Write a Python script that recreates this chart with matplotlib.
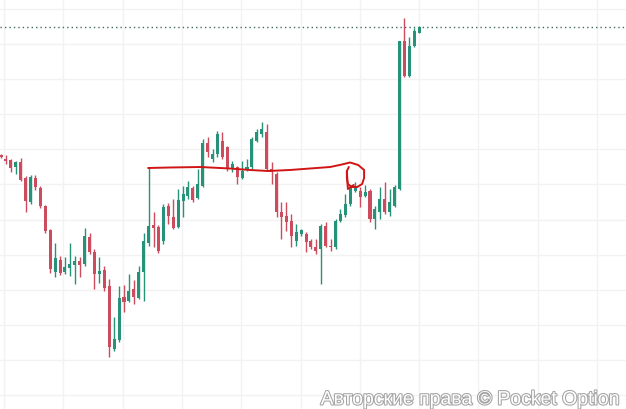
import matplotlib.pyplot as plt
import matplotlib.patheffects as pe
import numpy as np

# candle OHLC (price units)
opens = [254, 250, 249, 242, 247, 231, 207, 231, 221, 203, 179, 137, 149, 137, 141, 144, 148, 145, 172, 157,
         135, 139, 123, 60, 69, 112, 108, 120, 111, 137, 166, 184, 182, 168, 203, 192, 182, 208, 213, 221,
         211, 223, 266, 250, 255, 268, 262, 240, 242, 231, 240, 242, 268, 275, 277, 240, 235, 197, 193, 188,
         168, 175, 175, 168, 162, 160, 183, 163, 162, 188, 194, 205, 218, 218, 213, 218, 190, 197, 210, 197,
         203, 220, 368, 333, 363, 376]
highs = [255, 254, 250, 248, 251, 233, 234, 234, 223, 204, 180, 166, 153, 152, 166, 153, 152, 181, 176, 160,
         152, 143, 130, 92, 123, 124, 135, 129, 143, 176, 242, 197, 184, 205, 206, 210, 220, 223, 228, 223,
         240, 270, 272, 260, 278, 277, 263, 248, 243, 248, 250, 272, 280, 287, 285, 247, 237, 207, 207, 195,
         185, 180, 177, 170, 170, 185, 187, 170, 190, 200, 215, 224, 227, 222, 224, 220, 203, 222, 227, 220,
         224, 368, 391, 372, 381, 383]
lows = [251, 245, 237, 235, 228, 197, 205, 219, 201, 176, 136, 132, 134, 135, 133, 125, 132, 143, 155, 120,
        126, 118, 52, 58, 67, 97, 107, 105, 110, 108, 163, 162, 156, 165, 185, 180, 181, 192, 210, 207,
        210, 222, 252, 247, 252, 250, 238, 237, 225, 230, 238, 240, 267, 272, 238, 225, 192, 170, 178, 162,
        163, 173, 157, 160, 155, 125, 162, 158, 160, 187, 192, 203, 217, 202, 212, 187, 180, 190, 195, 193,
        202, 219, 332, 332, 362, 376]
closes = [252, 248, 241, 247, 229, 208, 232, 222, 203, 178, 140, 151, 136, 142, 145, 148, 144, 173, 157, 135,
          138, 121, 62, 70, 111, 107, 118, 112, 137, 168, 183, 181, 158, 202, 193, 181, 209, 215, 222, 209,
          225, 266, 257, 255, 275, 252, 240, 245, 232, 238, 242, 270, 277, 280, 240, 237, 197, 192, 187, 173,
          177, 179, 167, 162, 158, 183, 163, 162, 188, 195, 205, 222, 222, 212, 217, 190, 200, 210, 197, 207,
          222, 368, 333, 363, 378, 382]

# hand drawn red mark (candle index, price)
draw_x = [29.9, 34.3, 40.5, 46.5, 50.6, 54.3, 58.7, 62.8, 66.9, 69.3, 70.9, 71.3, 72.6, 73.8, 73.8,
          73.4, 72.4, 71.3, 70.5, 70.3, 70.3, 70.7]
draw_y = [241, 241.5, 242, 240.5, 239, 238, 239, 240.5, 242, 244.5, 246.5, 246, 244, 239, 231,
          225, 222, 222, 225, 231, 238, 242]
arrow_x = [70.3, 70.5, 71.7]
arrow_y = [238, 220, 224]

step = 4.92  # pixels per candle
fig = plt.figure(figsize=(6.26, 4.10), dpi=100)
ax = fig.add_axes([0, 0, 1, 1])
ax.set_xlim(-1 / step, 625 / step)
ax.set_ylim(0, 410)
ax.axis('off')

# faint grid
for gx in np.arange(3.0 / step, 626 / step, 59.3 / step):
    ax.axvline(gx, color='#f2f2f2', lw=1, zorder=0)
for gy in np.arange(400, 0, -35.09):
    ax.axhline(gy, color='#f2f2f2', lw=1, zorder=0)

green = '#26927a'
red = '#cc4c5d'
idx = np.arange(len(opens))
for i in idx:
    o, h, l, c = opens[i], highs[i], lows[i], closes[i]
    col = green if c >= o else red
    ax.vlines(i, l, h, color=col, lw=1, zorder=2)
    bot = min(o, c)
    height = max(abs(c - o), 1.2)
    ax.bar(i, height, bottom=bot, width=0.62, color=col, zorder=3, linewidth=0)

# current price line
ax.axhline(closes[-1], color='#3f6b66', lw=1, ls=(0, (1, 2.2)), zorder=1)

ax.plot(draw_x, draw_y, color='#d01515', lw=1.4, zorder=4, solid_capstyle='round')
ax.plot(arrow_x, arrow_y, color='#d01515', lw=1.4, zorder=4, solid_capstyle='round')

ax.text(620 / step, 9, 'Авторские права © Pocket Option', ha='right', va='center',
        fontsize=14, color='white', family='Liberation Sans',
        path_effects=[pe.withStroke(linewidth=1.5, foreground='#a4a4a4')], zorder=5)

fig.savefig('out.png', dpi=100)
